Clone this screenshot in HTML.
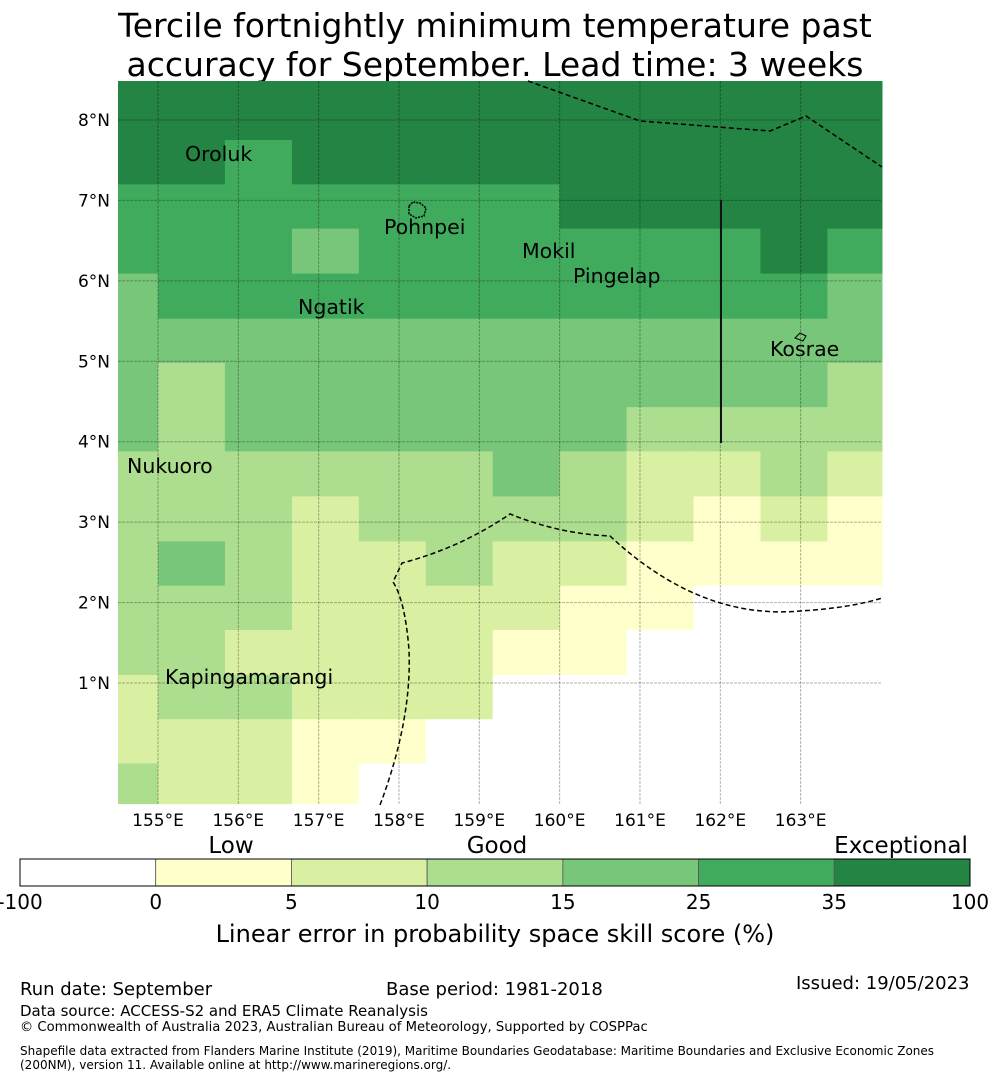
<!DOCTYPE html>
<html><head><meta charset="utf-8">
<style>
body{margin:0;background:#fff;width:990px;height:1080px;overflow:hidden;font-family:"Liberation Sans","DejaVu Sans",sans-serif;}
svg{display:block}
</style></head>
<body>
<svg id="chart" width="990" height="1080" viewBox="0 0 990 1080" xmlns="http://www.w3.org/2000/svg" font-family="DejaVu Sans, Liberation Sans, sans-serif">
<text x="495" y="37" font-size="33" text-anchor="middle">Tercile fortnightly minimum temperature past</text>
<text x="495" y="76" font-size="33" text-anchor="middle">accuracy for September. Lead time: 3 weeks</text>
<g id="cells"></g>
<g id="grid"></g>
<g id="ticks"></g>
<path d="M528,81 L640,121 L770,131 L806,116 L882,167" fill="none" stroke="#000" stroke-width="1.5" stroke-dasharray="5,3"/>
<path d="M380,805 Q412,720 409,650 Q405,600 393,582 L402,563 Q460,548 510,514 Q560,534 610,536 Q700,620 800,611 Q850,608 882,598" fill="none" stroke="#000" stroke-width="1.5" stroke-dasharray="5,3"/>
<line x1="721" y1="200" x2="721" y2="443" stroke="#111" stroke-width="2"/>
<g font-size="20.5" fill="#000">
<text x="185" y="161">Oroluk</text>
<text x="384" y="234">Pohnpei</text>
<text x="522" y="258">Mokil</text>
<text x="573" y="283">Pingelap</text>
<text x="298" y="314">Ngatik</text>
<text x="770" y="356">Kosrae</text>
<text x="127" y="473">Nukuoro</text>
<text x="165" y="684">Kapingamarangi</text>
</g>
<path d="M409,206 L413,202 L420,203 L426,208 L424,216 L416,218 L409,214 Z" fill="none" stroke="#000" stroke-width="1.5" stroke-dasharray="2,1"/>
<path d="M795,338 L800,333 L806,336 L803,341 Z" fill="none" stroke="#000" stroke-width="1"/>
<g id="cbar"></g>
<text x="231" y="853" font-size="23" text-anchor="middle">Low</text>
<text x="497" y="853" font-size="23" text-anchor="middle">Good</text>
<text x="901" y="853" font-size="23" text-anchor="middle">Exceptional</text>
<text x="495" y="942" font-size="24" text-anchor="middle">Linear error in probability space skill score (%)</text>
<g font-size="18">
<text x="20" y="995">Run date: September</text>
<text x="386" y="995">Base period: 1981-2018</text>
<text x="796" y="989">Issued: 19/05/2023</text>
<text x="20" y="1016" font-size="15">Data source: ACCESS-S2 and ERA5 Climate Reanalysis</text>
<text x="20" y="1031" font-size="13.2">© Commonwealth of Australia 2023, Australian Bureau of Meteorology, Supported by COSPPac</text>
<text x="20" y="1055" font-size="12">Shapefile data extracted from Flanders Marine Institute (2019), Maritime Boundaries Geodatabase: Maritime Boundaries and Exclusive Economic Zones</text>
<text x="20" y="1069" font-size="12">(200NM), version 11. Available online at http://www.marineregions.org/.</text>
</g>
</svg>
<script>
// Longitude edges (degrees E) of grid columns, latitude edges (deg N) of rows
const lonEdges = [154.5,155.0,155.833,156.667,157.5,158.333,159.167,160.0,160.833,161.667,162.5,163.333,164.05];
const latEdges = [8.49,7.75,7.2,6.65,6.09,5.53,4.98,4.43,3.88,3.32,2.76,2.21,1.66,1.1,0.55,0.0,-0.5];
// skill category per cell (0 = <0, 1 = 0-5, 2 = 5-10, 3 = 10-15, 4 = 15-25, 5 = 25-35, 6 = 35-100)
const skill = [
 [6,6,6,6,6,6,6,6,6,6,6,6],
 [6,6,5,6,6,6,6,6,6,6,6,6],
 [5,5,5,5,5,5,5,6,6,6,6,6],
 [5,5,5,4,5,5,5,5,5,5,6,5],
 [4,5,5,5,5,5,5,5,5,5,5,4],
 [4,4,4,4,4,4,4,4,4,4,4,4],
 [4,3,4,4,4,4,4,4,4,4,4,3],
 [4,3,4,4,4,4,4,4,3,3,3,3],
 [3,3,3,3,3,3,4,3,2,2,3,2],
 [3,3,3,2,3,3,3,3,2,1,2,1],
 [3,4,3,2,2,3,2,2,1,1,1,1],
 [3,3,3,2,2,2,2,1,1,0,0,0],
 [3,3,2,2,2,2,1,1,0,0,0,0],
 [2,3,3,2,2,2,0,0,0,0,0,0],
 [2,2,2,1,1,0,0,0,0,0,0,0],
 [3,2,2,1,0,0,0,0,0,0,0,0]
];
const lonTicks = [155,156,157,158,159,160,161,162,163];
const latTicks = [1,2,3,4,5,6,7,8];
const cbarTicks = ["-100","0","5","10","15","25","35","100"];
const palette = ["#ffffff","#ffffcc","#d9f0a3","#addd8e","#78c679","#41ab5d","#238443"];

const NS="http://www.w3.org/2000/svg";
const x0=118,x1=882,y0=81,y1=805;
const xScale = lon => 158 + (lon-155)*80.33;
const yScale = lat => 683 - (lat-1)*80.43;
function mk(tag,attrs,parent){const e=document.createElementNS(NS,tag);for(const k in attrs)e.setAttribute(k,attrs[k]);parent.appendChild(e);return e;}
const cells=document.getElementById('cells');
for(let r=0;r<skill.length;r++){for(let c=0;c<skill[r].length;c++){
  const xa=Math.max(x0,xScale(lonEdges[c])), xb=Math.min(x1,xScale(lonEdges[c+1]));
  const ya=Math.max(y0,yScale(latEdges[r])), yb=Math.min(y1,yScale(latEdges[r+1]));
  const rc=mk('rect',{x:xa,y:ya,width:xb-xa+0.5,height:yb-ya+0.5,fill:palette[skill[r][c]]},cells);
  
  
}}
const grid=document.getElementById('grid');
const ticks=document.getElementById('ticks');
lonTicks.forEach(l=>{const x=xScale(l);
  const ln=mk('line',{x1:x,y1:y0,x2:x,y2:y1,stroke:'#000','stroke-opacity':0.3,'stroke-width':1,'stroke-dasharray':'3,1'},grid);
  
  
  const t=mk('text',{x:x,y:826,'font-size':17,'text-anchor':'middle'},ticks);t.textContent=l+'°E';
  
  
});
latTicks.forEach(l=>{const y=yScale(l);
  const ln=mk('line',{x1:x0,y1:y,x2:x1,y2:y,stroke:'#000','stroke-opacity':0.3,'stroke-width':1,'stroke-dasharray':'3,1'},grid);
  
  
  const t=mk('text',{x:110,y:y+6,'font-size':17,'text-anchor':'end'},ticks);t.textContent=l+'°N';
  
  
});
const cb=document.getElementById('cbar');
const cbx0=20,cbw=950,n=cbarTicks.length-1;
for(let i=0;i<n;i++){
  const r=mk('rect',{x:cbx0+i*cbw/n,y:859,width:cbw/n,height:27,fill:palette[i],stroke:'#555','stroke-width':0.8},cb);
  
  
}
mk('rect',{x:cbx0,y:859,width:cbw,height:27,fill:'none',stroke:'#000','stroke-width':1},cb);
cbarTicks.forEach((t,i)=>{const tx=mk('text',{x:cbx0+i*cbw/n,y:909,'font-size':20,'text-anchor':'middle'},cb);tx.textContent=t;
  
  
});
</script>
</body></html>
